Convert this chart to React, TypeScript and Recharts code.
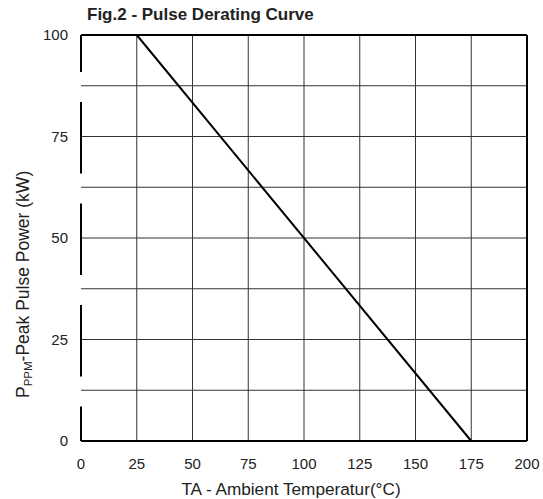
import React from 'react';
import { LineChart, Line, XAxis, YAxis, CartesianGrid, ReferenceLine, Label } from 'recharts';

const temperature = [25, 175];
const peakPower = [100, 0];
const xTicks = [0, 25, 50, 75, 100, 125, 150, 175, 200];
const yTicks = [0, 25, 50, 75, 100];
const hGrid = [12.5, 25, 37.5, 50, 62.5, 75, 87.5];
const vGrid = [25, 50, 75, 100, 125, 150, 175];

const data = temperature.map((t, i) => ({ t, p: peakPower[i] }));

const FONT = '"Liberation Sans", Arial, sans-serif';

const YLabel = (props: any) => {
  const vb = props.viewBox || {};
  const x = 28.5;
  const y = vb.y + vb.height - 43;
  return (
    <text
      x={x}
      y={y}
      transform={`rotate(-90, ${x}, ${y})`}
      textAnchor="start"
      fontFamily={FONT}
      fontSize={17.5}
      fill="#222"
    >
      <tspan>P</tspan>
      <tspan fontSize={11.5} dy={3.5}>PPM</tspan>
      <tspan dy={-3.5}>-Peak Pulse Power (kW)</tspan>
    </text>
  );
};

const XLabel = (props: any) => {
  const vb = props.viewBox || {};
  const x = vb.x + vb.width / 2 - 13;
  return (
    <text x={x} y={495} textAnchor="middle" fontFamily={FONT} fontSize={17.2} fill="#222">
      TA - Ambient Temperatur(°C)
    </text>
  );
};

export default function App() {
  return (
    <div style={{ position: 'absolute', left: 0, top: 0, width: 543, height: 499, background: '#fff' }}>
      <div
        style={{
          position: 'absolute',
          left: 87,
          top: 5,
          fontFamily: FONT,
          fontWeight: 'bold',
          fontSize: 17,
          color: '#222',
          whiteSpace: 'nowrap',
        }}
      >
        Fig.2 - Pulse Derating Curve
      </div>
      <LineChart width={543} height={499} data={data} margin={{ top: 35, right: 16, bottom: 0, left: 0 }}>
        <CartesianGrid
          horizontalValues={hGrid}
          verticalValues={vGrid}
          stroke="#333"
          strokeWidth={1}
        />
        <XAxis
          dataKey="t"
          type="number"
          domain={[0, 200]}
          ticks={xTicks}
          height={58}
          tickLine={false}
          tickSize={0}
          tickMargin={17}
          axisLine={{ stroke: '#000', strokeWidth: 2 }}
          tick={{ fontFamily: FONT, fontSize: 15, fill: '#222' }}
          interval={0}
        >
          <Label content={<XLabel />} />
        </XAxis>
        <YAxis
          type="number"
          domain={[0, 100]}
          ticks={yTicks}
          width={81}
          tickLine={false}
          tickSize={0}
          tickMargin={13}
          axisLine={{ stroke: '#000', strokeWidth: 2, strokeDasharray: '37 30 71.5 30 71.5 30 71.5 30 40' }}
          tick={{ fontFamily: FONT, fontSize: 15, fill: '#222' }}
          interval={0}
        >
          <Label content={<YLabel />} />
        </YAxis>
        <ReferenceLine y={100} stroke="#000" strokeWidth={2} />
        <ReferenceLine x={200} stroke="#000" strokeWidth={2} />
        <Line
          dataKey="p"
          stroke="#000"
          strokeWidth={2}
          dot={false}
          isAnimationActive={false}
          type="linear"
        />
      </LineChart>
    </div>
  );
}
